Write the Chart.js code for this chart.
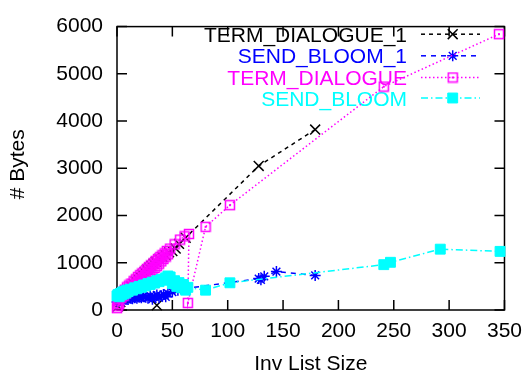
<!DOCTYPE html>
<html>
<head>
<meta charset="utf-8">
<script src="https://cdn.jsdelivr.net/npm/chart.js@4/dist/chart.umd.min.js"></script>
<style>
  html, body { margin: 0; padding: 0; background: #fff; }
  canvas { display: block; }
</style>
</head>
<body>
<canvas id="bytesChart" width="531" height="379"></canvas>
<script>
// x = inverted list size, y = message size in bytes
const termDialogue1X = [1, 3, 5, 7, 9, 11, 13, 15, 17, 19, 21, 23, 25, 27, 29, 31, 33, 35, 36, 36, 36, 38, 41, 44, 47, 50, 53, 56, 62, 128, 179];
const termDialogue1Y = [80, 170, 250, 320, 380, 440, 500, 550, 600, 650, 700, 750, 800, 850, 890, 930, 980, 1020, null, 100, null, 1080, 1120, 1160, 1220, 1250, 1300, 1400, 1530, 3050, 3820];

const sendBloom1X = [0, 2, 4, 6, 8, 10, 12, 14, 16, 18, 20, 22, 24, 26, 28, 30, 32, 34, 36, 38, 40, 42, 44, 46, 50, 55, 60, 128, 130, 133, 144, 179];
const sendBloom1Y = [170, 190, 210, 200, 230, 220, 250, 240, 260, 250, 270, 260, 280, 270, 250, 300, 230, 280, 320, 260, 300, 330, 280, 350, 380, 420, 450, 665, 640, 712, 813, 732];

const termDialogueX = [0, 1, 2, 1, 3, 4, 5, 6, 7, 8, 9, 10, 11, 12, 13, 14, 15, 16, 17, 18, 19, 20, 21, 22, 23, 24, 25, 26, 27, 28, 29, 30, 31, 32, 33, 34, 35, 36, 37, 38, 39, 40, 41, 42, 43, 44, 45, 46, 48, 52, 57, 61, 65, 64, 80, 102, 241, 345];
const termDialogueY = [40, 90, 130, 200, 300, 260, 380, 300, 430, 350, 480, 400, 520, 430, 560, 480, 610, 520, 650, 560, 700, 600, 740, 640, 780, 680, 820, 720, 870, 760, 910, 800, 950, 850, 990, 890, 1040, 930, 1080, 980, 1120, 1030, 1160, 1080, 1200, 1130, 1250, 1180, 1300, 1390, 1490, 1560, 1610, 150, 1760, 2220, 4730, 5840];

const sendBloomX = [0, 1, 2, 3, 4, 5, 6, 7, 8, 9, 10, 12, 14, 16, 18, 20, 22, 24, 26, 28, 30, 32, 34, 36, 38, 40, 42, 44, 46, 48, 50, 52, 54, 56, 58, 60, 62, 64, 80, 102, 241, 247, 292, 346];
const sendBloomY = [300, 330, 280, 350, 320, 380, 340, 400, 360, 420, 390, 440, 420, 470, 450, 500, 480, 530, 510, 560, 540, 590, 570, 620, 600, 650, 630, 680, 720, 700, 560, 620, 500, 580, 470, 540, 420, 480, 420, 576, 960, 1010, 1288, 1241];

const xTicks = [0, 50, 100, 150, 200, 250, 300, 350];
const yTicks = [0, 1000, 2000, 3000, 4000, 5000, 6000];

const FONT = "Liberation Sans, Arial, Helvetica, sans-serif";

function pairs(xs, ys) {
  return xs.map((x, i) => ({ x: x, y: ys[i] }));
}

// open square with a dot in the middle
function boxDot(color) {
  const c = document.createElement("canvas");
  c.width = 12;
  c.height = 12;
  const g = c.getContext("2d");
  g.strokeStyle = color;
  g.lineWidth = 1.5;
  g.strokeRect(1.5, 1.5, 9, 9);
  g.fillStyle = color;
  g.fillRect(5, 5, 2, 2);
  return c;
}

// frame with inward ticks on all four sides, plus key and axis titles
const framePlugin = {
  id: "frame",
  beforeDatasetsDraw(chart) {
    const { ctx, chartArea: a, scales } = chart;
    ctx.save();
    ctx.strokeStyle = "#000";
    ctx.lineWidth = 1.5;
    ctx.strokeRect(a.left, a.top, a.right - a.left, a.bottom - a.top);
    const tl = 10;
    ctx.beginPath();
    xTicks.forEach((v) => {
      const px = scales.x.getPixelForValue(v);
      ctx.moveTo(px, a.bottom); ctx.lineTo(px, a.bottom - tl);
      ctx.moveTo(px, a.top); ctx.lineTo(px, a.top + tl);
    });
    yTicks.forEach((v) => {
      const py = scales.y.getPixelForValue(v);
      ctx.moveTo(a.left, py); ctx.lineTo(a.left + tl, py);
      ctx.moveTo(a.right, py); ctx.lineTo(a.right - tl, py);
    });
    ctx.stroke();

    // axis titles
    ctx.fillStyle = "#000";
    ctx.font = "21px " + FONT;
    ctx.textAlign = "center";
    ctx.textBaseline = "alphabetic";
    ctx.fillText("Inv List Size", (a.left + a.right) / 2, 370);
    ctx.translate(23.5, (a.top + a.bottom) / 2 - 4);
    ctx.rotate(-Math.PI / 2);
    ctx.fillText("# Bytes", 0, 0);
    ctx.restore();

    // key
    ctx.save();
    ctx.font = "21px " + FONT;
    ctx.textAlign = "right";
    ctx.textBaseline = "alphabetic";
    const baselines = [41.7, 63.3, 85, 105.5];
    chart.data.datasets.forEach((ds, i) => {
      const base = baselines[i];
      const ly = base - 7.5;
      ctx.fillStyle = ds.borderColor;
      ctx.fillText(ds.label, 407, base);
      ctx.strokeStyle = ds.borderColor;
      ctx.lineWidth = ds.borderWidth;
      ctx.setLineDash(ds.borderDash);
      ctx.beginPath();
      ctx.moveTo(421, ly);
      ctx.lineTo(480, ly);
      ctx.stroke();
      ctx.setLineDash([]);
      ctx.fillStyle = ds.pointBackgroundColor;
      ctx.lineWidth = ds.pointBorderWidth;
      Chart.helpers.drawPoint(ctx, {
        pointStyle: ds.pointStyle,
        radius: ds.pointRadius,
        rotation: 0,
        borderWidth: ds.pointBorderWidth
      }, 452.7, ly);
    });
    ctx.restore();
  }
};

const plainLabel = (v) => String(v);

const ctx = document.getElementById("bytesChart").getContext("2d");
const chart = new Chart(ctx, {
  type: "scatter",
  data: {
    datasets: [
      {
        label: "TERM_DIALOGUE_1",
        data: pairs(termDialogue1X, termDialogue1Y),
        showLine: true,
        borderColor: "#000000",
        borderWidth: 1.5,
        borderDash: [4, 4],
        pointStyle: "crossRot",
        pointRadius: 7,
        pointBorderWidth: 1.5,
        pointBorderColor: "#000000",
        pointBackgroundColor: "#000000",
        clip: false,
        order: 4
      },
      {
        label: "SEND_BLOOM_1",
        data: pairs(sendBloom1X, sendBloom1Y),
        showLine: true,
        borderColor: "#0000ff",
        borderWidth: 1.5,
        borderDash: [5, 5],
        pointStyle: "star",
        pointRadius: 5.5,
        pointBorderWidth: 1.5,
        pointBorderColor: "#0000ff",
        pointBackgroundColor: "#0000ff",
        clip: false,
        order: 3
      },
      {
        label: "TERM_DIALOGUE",
        data: pairs(termDialogueX, termDialogueY),
        showLine: true,
        borderColor: "#ff00ff",
        borderWidth: 1.5,
        borderDash: [1.5, 2.5],
        pointStyle: boxDot("#ff00ff"),
        pointRadius: 6,
        pointBorderWidth: 1.5,
        pointBorderColor: "#ff00ff",
        pointBackgroundColor: "rgba(0,0,0,0)",
        clip: false,
        order: 2
      },
      {
        label: "SEND_BLOOM",
        data: pairs(sendBloomX, sendBloomY),
        showLine: true,
        borderColor: "#00ffff",
        borderWidth: 1.5,
        borderDash: [7, 3, 1.5, 3],
        pointStyle: "rect",
        pointRadius: 7,
        pointBorderWidth: 1,
        pointBorderColor: "#00ffff",
        pointBackgroundColor: "#00ffff",
        clip: false,
        order: 1
      }
    ]
  },
  options: {
    responsive: false,
    animation: false,
    devicePixelRatio: 1,
    layout: { padding: { left: 0, right: 23, top: 15, bottom: 0 } },
    plugins: {
      legend: { display: false },
      tooltip: { enabled: false }
    },
    scales: {
      x: {
        type: "linear",
        min: 0,
        max: 350,
        afterFit: (s) => { s.height = 69; },
        afterBuildTicks: (s) => { s.ticks = xTicks.map((v) => ({ value: v })); },
        ticks: { color: "#000", font: { family: FONT, size: 21 }, padding: 9, maxRotation: 0, callback: plainLabel },
        grid: { display: false, drawTicks: false },
        border: { display: false }
      },
      y: {
        type: "linear",
        min: 0,
        max: 6000,
        afterFit: (s) => { s.width = 117; },
        afterBuildTicks: (s) => { s.ticks = yTicks.map((v) => ({ value: v })); },
        ticks: { color: "#000", font: { family: FONT, size: 21 }, padding: 14, callback: plainLabel },
        grid: { display: false, drawTicks: false },
        border: { display: false }
      }
    }
  },
  plugins: [framePlugin]
});
</script>
</body>
</html>
